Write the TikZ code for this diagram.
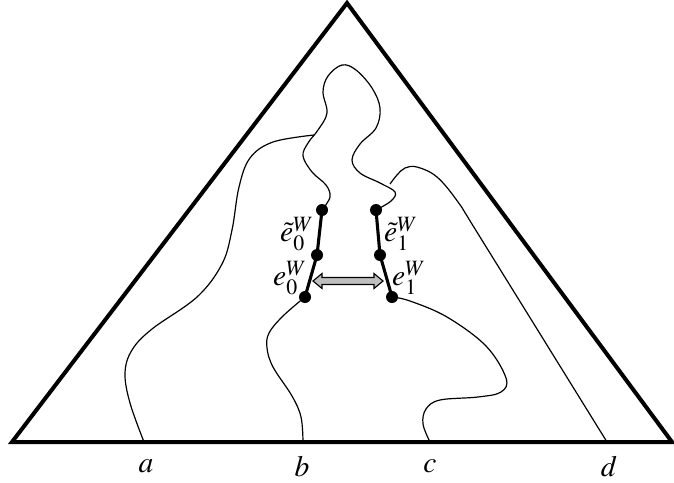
\documentclass[tikz,border=0pt]{standalone}
\usepackage{mathptmx}
\begin{document}
\begin{tikzpicture}[
    x=0.025cm, y=-0.025cm,
    every node/.style={font=\fontsize{21}{25}\selectfont, inner sep=0pt},
    frame/.style={line width=0.1cm, line join=miter},
    curve/.style={line width=0.85pt},
    seg/.style={line width=2.2pt},
    twoway/.style={fill=gray!50, line width=0.8pt, line join=miter}
]
    \useasboundingbox (0,0) rectangle (674,482);

    % Triangle
    \coordinate (left) at (12,442);
    \coordinate (right) at (672,442);
    \coordinate (apex) at (347,3);
    \draw[frame] (left) -- (apex) -- (right) -- cycle;

    % Points on the two paths
    \coordinate (t0) at (322,210);
    \coordinate (m0) at (317,255);
    \coordinate (b0) at (305,297);
    \coordinate (t1) at (376,210);
    \coordinate (m1) at (380,255);
    \coordinate (b1) at (392,297);

    % Curves
    \draw[curve] plot[smooth, tension=0.6] coordinates {
        (144,442) (130,403) (125,373) (132,350) (152,329) (197,297)
        (222,264) (232,230) (239,187) (250,158) (273,142) (314,135)};
    \draw[curve] plot[smooth, tension=0.6] coordinates {
        (t0) (330,197) (326,185) (312,172) (303,156) (308,143) (318,130)
        (327,113) (323,92) (328,76) (342,65) (356,70) (372,88) (380,108)
        (376,128) (360,144) (352,160) (360,173) (380,183) (395,192)
        (391,201) (t1)};
    \draw[curve] plot[smooth, tension=0.6] coordinates {
        (390,184) (397,175) (405,168) (417,167) (437,177) (458,202)
        (480,237) (607,442)};
    \draw[curve] plot[smooth, tension=0.6] coordinates {
        (b0) (283,316) (269,333) (267,348) (273,367) (292,396)
        (301,417) (303,442)};
    \draw[curve] plot[smooth, tension=0.6] coordinates {
        (b1) (410,301) (447,317) (486,346) (506,378) (501,392) (478,397)
        (440,400) (426,409) (423,424) (430,442)};

    % Bold segments and dots
    \draw[seg] (t0) -- (m0) -- (b0);
    \draw[seg] (t1) -- (m1) -- (b1);
    \foreach \p in {t0,m0,b0,t1,m1,b1}
        \fill (\p) circle[radius=0.15cm];

    % Double arrow
    \draw[twoway] (313,281) -- (322,273.5) -- (322,277.5) -- (374,277.5)
        -- (374,273.5) -- (383,281) -- (374,288.5) -- (374,284.5)
        -- (322,284.5) -- (322,288.5) -- cycle;

    % Labels
    \node (lt0) at (297,234) {$\tilde{e}^{W}_{0}$};
    \node (lb0) at (290,278) {$e^{W}_{0}$};
    \node (lt1) at (401,234) {$\tilde{e}^{W}_{1}$};
    \node (lb1) at (409,278) {$e^{W}_{1}$};

    \node (la) at (146,466) {$a$};
    \node (lb) at (302,466) {$b$};
    \node (lc) at (430,466) {$c$};
    \node (ld) at (609,466) {$d$};
\end{tikzpicture}
\end{document}
